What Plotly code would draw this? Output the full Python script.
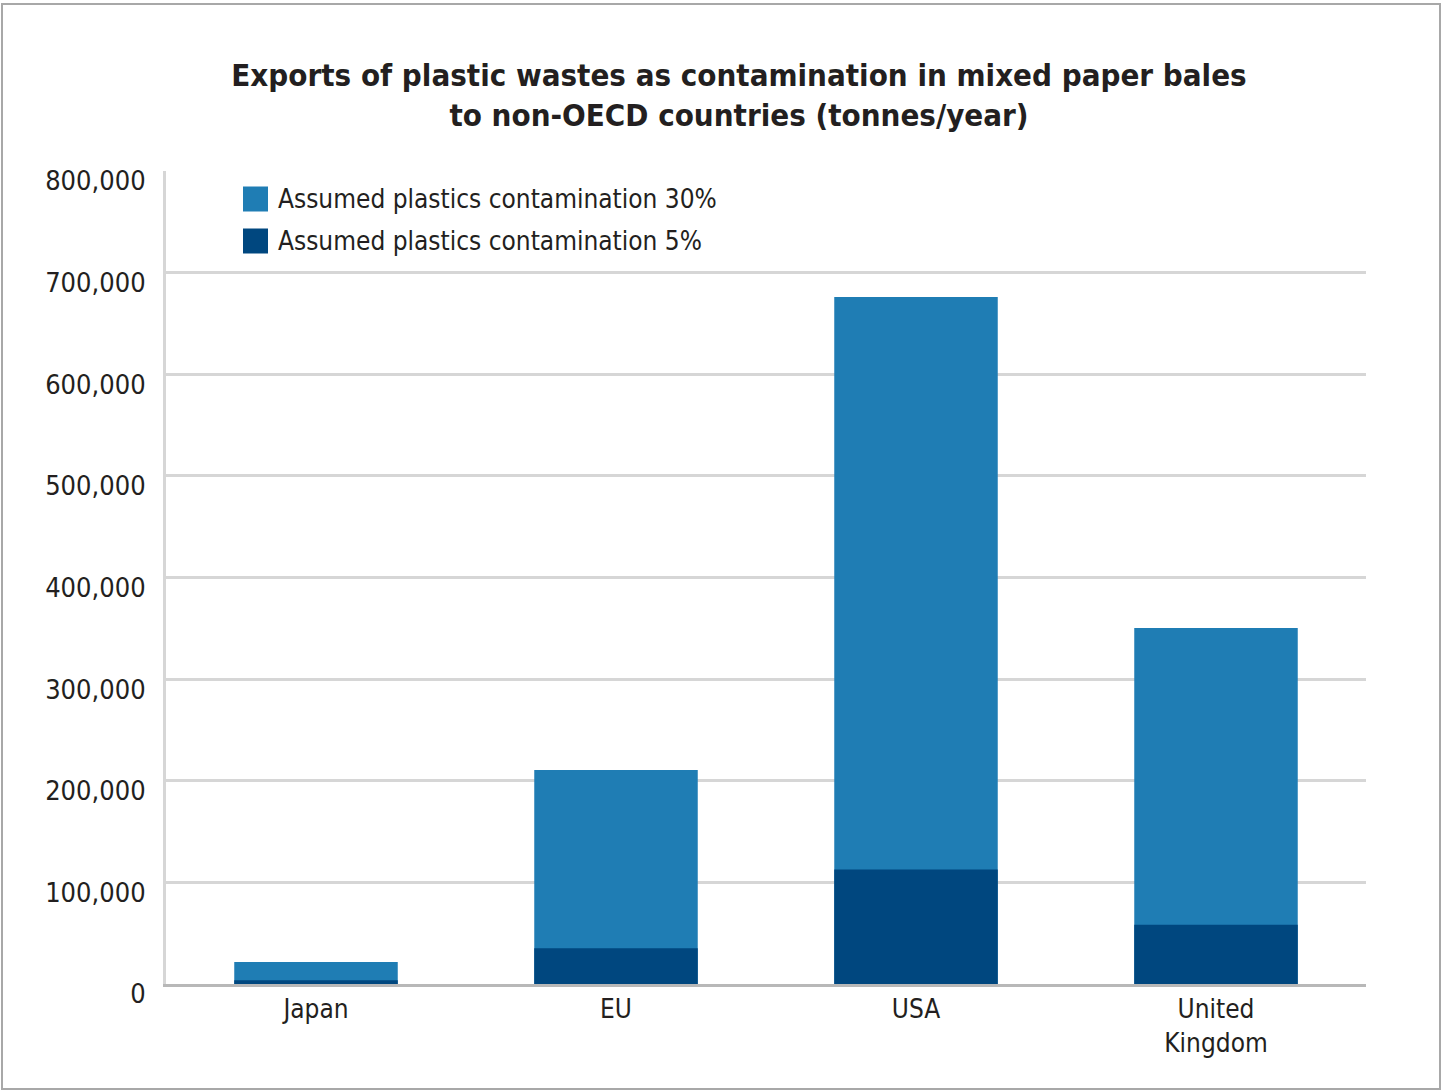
import plotly.graph_objects as go

# Tonnes/year of plastic exported as contamination in mixed paper bales
regions = ["Japan", "EU", "USA", "United<br>Kingdom"]
contamination_30 = [21600, 210600, 676000, 350400]
contamination_5 = [3600, 35100, 112700, 58400]
series_names = ["Assumed plastics contamination 30%", "Assumed plastics contamination 5%"]
series_colors = ["#1f7db4", "#00477f"]

y_ticks = [0, 100000, 200000, 300000, 400000, 500000, 600000, 700000, 800000]

FONT = "DejaVu Sans Condensed, Liberation Sans Narrow, Arial Narrow, sans-serif"
TEXT = "#231f20"

fig = go.Figure()
for name, vals, col in zip(series_names, [contamination_30, contamination_5], series_colors):
    fig.add_trace(go.Bar(x=regions, y=vals, name=name, marker=dict(color=col, line=dict(width=0)),
                         width=0.545, showlegend=False))

fig.update_layout(
    width=1442, height=1091,
    margin=dict(l=166, r=76, t=171, b=107),
    paper_bgcolor="white", plot_bgcolor="white",
    barmode="overlay",
    font=dict(family=FONT, color=TEXT),
    title=dict(
        text="<b>Exports of plastic wastes as contamination in mixed paper bales<br>to non-OECD countries (tonnes/year)</b>",
        x=739 / 1442, xanchor="center", y=1 - 86 / 1091, yanchor="middle",
        font=dict(size=31, family=FONT, color=TEXT),
    ),
)

fig.update_yaxes(
    range=[0, 800000], tickvals=y_ticks, tickformat=",",
    showgrid=True, gridcolor="#d6d6d6", gridwidth=3,
    zeroline=False, showline=True, linecolor="#d6d6d6", linewidth=3,
    ticks="", ticklabelstandoff=12, ticklabelshift=10,
    tickfont=dict(size=27, family=FONT, color=TEXT),
)
fig.update_xaxes(
    showgrid=False, showline=True, linecolor="#b8b8b8", linewidth=3,
    ticks="", tickfont=dict(size=26, family=FONT, color=TEXT),
)

# Legend drawn as swatches plus labels
for i, (name, col) in enumerate(zip(series_names, series_colors)):
    yc = 199 + 42 * i
    fig.add_shape(type="rect", xref="paper", yref="paper",
                  x0=(243 - 166) / 1200, x1=(268 - 166) / 1200,
                  y0=(984 - (yc + 12.5)) / 813, y1=(984 - (yc - 12.5)) / 813,
                  fillcolor=col, line=dict(width=0))
    fig.add_annotation(xref="paper", yref="paper", x=(276 - 166) / 1200, y=(984 - yc) / 813,
                       xanchor="left", yanchor="middle", showarrow=False, text=name,
                       font=dict(size=26, family=FONT, color=TEXT))

# Outer frame
fig.add_shape(type="rect", xref="paper", yref="paper",
              x0=(2 - 166) / 1200, x1=(1440 - 166) / 1200,
              y0=(984 - 1089) / 813, y1=(984 - 4) / 813,
              line=dict(color="#a8a8a8", width=2), fillcolor="rgba(0,0,0,0)")

fig.write_html("out.html")
